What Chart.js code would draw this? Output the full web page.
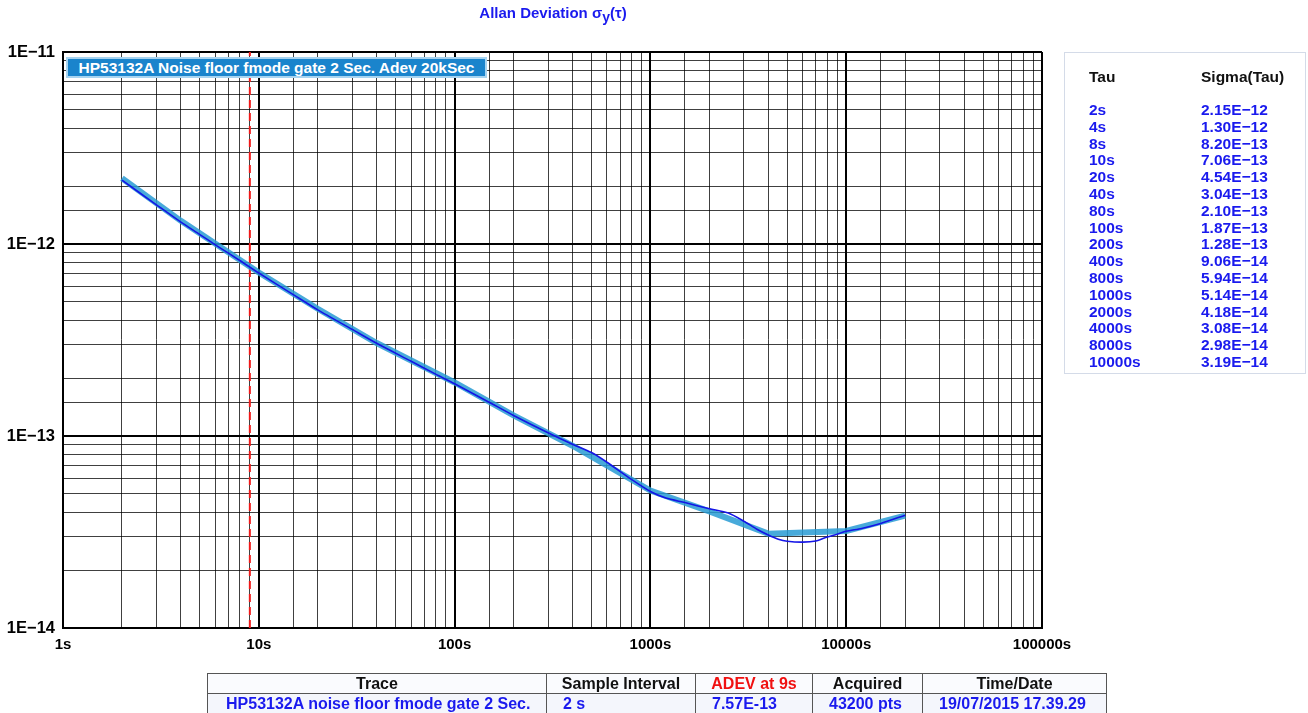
<!DOCTYPE html>
<html>
<head>
<meta charset="utf-8">
<script src="https://cdn.jsdelivr.net/npm/chart.js@4.4.1/dist/chart.umd.min.js"></script>
<style>
  body { margin: 0; background: #fff; font-family: 'Liberation Sans', Arial, sans-serif; }
  #wrap { position: relative; width: 1308px; height: 713px; overflow: hidden; }
  #chart { position: absolute; left: 0; top: 0; }
  .title { position: absolute; left: 0; width: 1106px; top: 4px; text-align: center; color: #1a1aee; font-weight: bold; font-size: 15px; }
  .title sub { font-size: 14px; }
  .legendBox { position: absolute; left: 66px; top: 57px; width: 417px; height: 17px; background: #1a84cc; border: 2px solid #a8d4f0; color: #fff; font-weight: bold; font-size: 15.5px; line-height: 17px; text-align: center; }
  .side { position: absolute; left: 1064px; top: 52px; width: 240px; height: 320px; border: 1px solid #d4dbe8; }
  .side table { position: absolute; left: 24px; top: 14px; border-collapse: collapse; font-weight: bold; font-size: 15.5px; }
  .side td { padding: 0; height: 16.8px; line-height: 16.8px; }
  .side td.c1 { width: 112px; }
  .side tr.head td { color: #111; height: 35px; line-height: 20px; vertical-align: top; }
  .side tr.row td { color: #1a1aee; }
  .bottom { position: absolute; left: 207px; top: 673px; border-collapse: collapse; font-family: 'Liberation Sans Narrow', 'Arial Narrow', 'Liberation Sans', sans-serif; font-weight: bold; font-size: 16px; }
  .bottom td { border: 1px solid #555; height: 19px; line-height: 19px; padding: 0; }
  .bottom tr.h td { text-align: center; color: #111; background: #fafbfe; }
  .bottom tr.v td { color: #1a1aee; padding-left: 16px; background: #f4f6fc; }
</style>
</head>
<body>
<div id="wrap">
  <canvas id="chart" width="1308" height="713"></canvas>
  <div class="title">Allan Deviation σ<sub>y</sub>(τ)</div>
  <div class="legendBox">HP53132A Noise floor fmode gate 2 Sec. Adev 20kSec</div>
  <div class="side"><table id="sideTable"></table></div>
  <table class="bottom">
    <tr class="h">
      <td style="width:338px">Trace</td>
      <td style="width:148px">Sample Interval</td>
      <td style="width:116px;color:#f01010">ADEV at 9s</td>
      <td style="width:109px">Acquired</td>
      <td style="width:183px">Time/Date</td>
    </tr>
    <tr class="v">
      <td style="padding-left:18px">HP53132A noise floor fmode gate 2 Sec.</td>
      <td>2 s</td>
      <td>7.57E-13</td>
      <td>43200 pts</td>
      <td>19/07/2015 17.39.29</td>
    </tr>
  </table>
</div>
<script>
'use strict'

// measured trace (thin blue)
const tauMeas = [2, 3, 4, 5, 6, 8, 10, 15, 20, 30, 40, 60, 80, 100, 150, 200, 300, 400, 500, 600, 800, 1000, 1200, 1500, 2000, 2500, 3000, 3500, 4000, 4500, 5000, 6000, 7000, 8000, 9000, 10000, 12000, 15000, 20000];
const adevMeas = [2.15e-12, 1.60e-12, 1.30e-12, 1.12e-12, 9.9e-13, 8.2e-13, 7.06e-13, 5.45e-13, 4.54e-13, 3.59e-13, 3.04e-13, 2.45e-13, 2.10e-13, 1.87e-13, 1.50e-13, 1.28e-13, 1.04e-13, 9.06e-14, 8.2e-14, 7.3e-14, 5.94e-14, 5.14e-14, 4.75e-14, 4.5e-14, 4.18e-14, 3.97e-14, 3.6e-14, 3.27e-14, 3.05e-14, 2.9e-14, 2.83e-14, 2.8e-14, 2.84e-14, 2.98e-14, 3.08e-14, 3.19e-14, 3.3e-14, 3.5e-14, 3.87e-14];

// thick light blue trace
const tauFit = [2, 4, 10, 20, 40, 100, 200, 400, 1000, 2000, 4000, 10000, 20000];
const adevFit = [2.2e-12, 1.32e-12, 7.1e-13, 4.6e-13, 3.05e-13, 1.9e-13, 1.28e-13, 8.9e-14, 5.2e-14, 4.05e-14, 3.1e-14, 3.2e-14, 3.85e-14];

// side table
const tableTau = ['2s', '4s', '8s', '10s', '20s', '40s', '80s', '100s', '200s', '400s', '800s', '1000s', '2000s', '4000s', '8000s', '10000s'];
const tableSigma = ['2.15E−12', '1.30E−12', '8.20E−13', '7.06E−13', '4.54E−13', '3.04E−13', '2.10E−13', '1.87E−13', '1.28E−13', '9.06E−14', '5.94E−14', '5.14E−14', '4.18E−14', '3.08E−14', '2.98E−14', '3.19E−14'];

const markerTau = 9;
const xMin = 1, xMax = 100000;
const yMin = 1e-14, yMax = 1e-11;

let html = '<tr class="head"><td class="c1">Tau</td><td>Sigma(Tau)</td></tr>';
for (let i = 0; i < tableTau.length; i++) {
    html += '<tr class="row"><td class="c1">' + tableTau[i] + '</td><td>' + tableSigma[i] + '</td></tr>';
}
document.getElementById('sideTable').innerHTML = html;

function isDecade(v) {
    const l = Math.log10(v);
    return Math.abs(l - Math.round(l)) < 1e-6;
}

const gridStyle = {
    drawTicks: false,
    color: (c) => isDecade(c.tick.value) ? '#000' : 'rgba(0,0,0,0.75)',
    lineWidth: (c) => isDecade(c.tick.value) ? 2 : 1
};

const ctx = document.getElementById('chart').getContext('2d');
const myChart = new Chart(ctx, {
    type: 'line',
    data: {
        datasets: [{
            label: 'measured',
            data: tauMeas.map((t, i) => ({x: t, y: adevMeas[i]})),
            borderColor: '#1414e6',
            borderWidth: 1.6,
            pointRadius: 0,
            tension: 0.25
        },
        {
            label: 'fit',
            data: tauFit.map((t, i) => ({x: t, y: adevFit[i]})),
            borderColor: 'rgba(40,155,212,0.85)',
            borderWidth: 6,
            pointRadius: 0,
            tension: 0
        },
        {
            label: 'marker',
            data: [{x: markerTau, y: yMin}, {x: markerTau, y: yMax}],
            borderColor: '#f01818',
            borderWidth: 2,
            borderDash: [8, 5],
            pointRadius: 0
        }]
    },
    options: {
        responsive: false,
        animation: false,
        layout: {padding: {left: 0, top: 52, right: 266, bottom: 55}},
        plugins: {legend: {display: false}, tooltip: {enabled: false}},
        scales: {
            x: {
                type: 'logarithmic',
                min: xMin,
                max: xMax,
                afterFit: (s) => { s.height = 30; },
                border: {display: true, color: '#000', width: 2},
                grid: gridStyle,
                ticks: {
                    autoSkip: false,
                    maxRotation: 0,
                    padding: 8,
                    color: '#000',
                    font: {family: 'Liberation Sans', size: 15, weight: 'bold'},
                    callback: (v) => isDecade(v) ? Math.round(v) + 's' : ''
                }
            },
            y: {
                type: 'logarithmic',
                min: yMin,
                max: yMax,
                afterFit: (s) => { s.width = 63; },
                border: {display: true, color: '#000', width: 2},
                grid: gridStyle,
                ticks: {
                    autoSkip: false,
                    padding: 8,
                    color: '#000',
                    font: {family: 'Liberation Sans', size: 16.5, weight: 'bold'},
                    callback: (v) => isDecade(v) ? '1E−' + Math.abs(Math.round(Math.log10(v))) : ''
                }
            }
        }
    }
});
</script>
</body>
</html>
